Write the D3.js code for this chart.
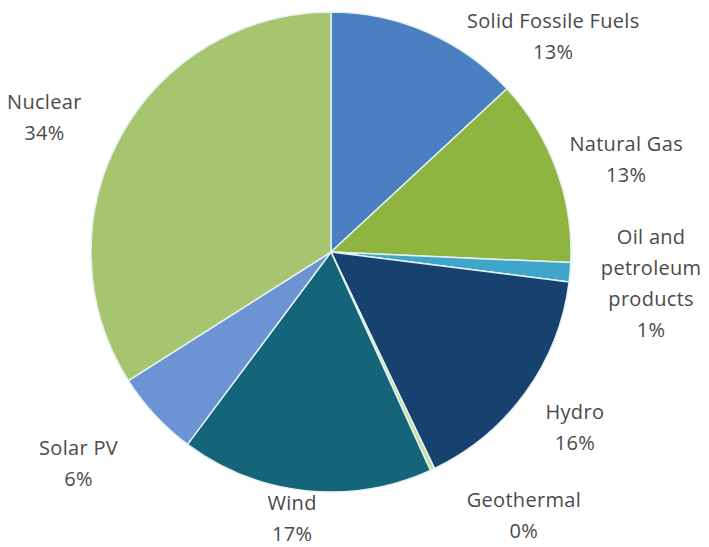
<!DOCTYPE html>
<html>
<head>
<meta charset="utf-8">
<script src="https://cdn.jsdelivr.net/npm/d3@7"></script>
<style>
  body { margin: 0; background: #fff; }
  svg { display: block; }
</style>
</head>
<body>
<svg id="chart" width="709" height="547"></svg>
<script>
// data, clockwise from 12 o'clock
const sources = ['Solid Fossile Fuels', 'Natural Gas', 'Oil and petroleum products', 'Hydro', 'Geothermal', 'Wind', 'Solar PV', 'Nuclear']
const shares = [13.1, 12.6, 1.3, 15.9, 0.3, 17.0, 5.8, 34.0]
const shareLabels = ['13%', '13%', '1%', '16%', '0%', '17%', '6%', '34%']
const colors = ['#4a7fc1', '#8fb43f', '#3fa5cb', '#17426f', '#c6dc9c', '#15657a', '#6c93d3', '#a7c56f']

// label lines (text only), one array per slice
const labelLines = [
  ['Solid Fossile Fuels'],
  ['Natural Gas'],
  ['Oil and', 'petroleum', 'products'],
  ['Hydro'],
  ['Geothermal'],
  ['Wind'],
  ['Solar PV'],
  ['Nuclear'],
]

const cx = 331
const cy = 252
const radius = 240

const svg = d3.select('#chart')

const data = sources.map((d, i) => ({
  name: d,
  value: shares[i],
  lines: labelLines[i].concat([shareLabels[i]]),
  color: colors[i],
}))

const pie = d3.pie().sort(null).value((d) => d.value)
const arcs = pie(data)

const arc = d3.arc().innerRadius(0).outerRadius(radius)

const g = svg.append('g').attr('transform', `translate(${cx},${cy})`)

g.selectAll('path')
  .data(arcs)
  .join('path')
  .attr('d', arc)
  .attr('fill', (d) => d.data.color)
  .attr('stroke', '#e4f2f0')
  .attr('stroke-width', 1.5)
  .attr('stroke-linejoin', 'round')

// label placement: shift from the slice mid angle (degrees) and radius factor
// tuned by eye to mimic the excel label layout
const labelShift = [22.3, 2.6, 0.6, -0.2, -11.2, 2.2, 3.0, -3.6]
const labelRadius = [1.29, 1.29, 1.34, 1.25, 1.36, 1.12, 1.37, 1.32]
const lineHeight = 31

const labels = svg.append('g')
  .attr('font-family', '"Open Sans", sans-serif')
  .attr('font-size', 20)
  .attr('letter-spacing', 0.3)
  .attr('fill', '#4a4a4a')
  .attr('text-anchor', 'middle')

arcs.forEach((a, i) => {
  const mid = (a.startAngle + a.endAngle) / 2 + (labelShift[i] * Math.PI) / 180
  const r = radius * labelRadius[i]
  const x = cx + Math.sin(mid) * r
  const y = cy - Math.cos(mid) * r
  const lines = a.data.lines
  const top = y - ((lines.length - 1) * lineHeight) / 2
  const t = labels.append('text')
  lines.forEach((ln, j) => {
    t.append('tspan')
      .attr('x', x)
      .attr('y', top + j * lineHeight)
      .attr('dominant-baseline', 'central')
      .text(ln)
  })
})
</script>
</body>
</html>
